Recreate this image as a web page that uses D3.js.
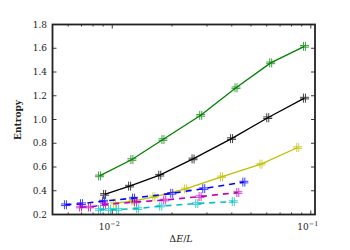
<!DOCTYPE html>
<html><head><meta charset="utf-8">
<script src="https://cdn.jsdelivr.net/npm/d3@7"></script>
<style>body{margin:0;background:#fff}text{font-family:"DejaVu Serif","Liberation Serif",serif}</style>
</head><body><svg id="c" width="350" height="250"></svg>
<script>
const greenX=[0.00863,0.01256,0.018,0.0279,0.042,0.0628,0.0929];
const greenY=[0.525,0.663,0.831,1.035,1.267,1.477,1.616];
const blackX=[0.00915,0.01223,0.01734,0.02553,0.0399,0.0607,0.0929];
const blackY=[0.369,0.439,0.531,0.668,0.839,1.015,1.180];
const yellowX=[0.01027,0.0127,0.0162,0.0234,0.0355,0.0561,0.0859];
const yellowY=[0.296,0.313,0.349,0.416,0.517,0.624,0.764];
const blueX=[0.00581,0.0070,0.00904,0.0128,0.01993,0.0289,0.046];
const blueY=[0.282,0.291,0.313,0.338,0.378,0.418,0.473];
const magentaX=[0.00692,0.00768,0.00914,0.0131,0.01837,0.0277,0.0429];
const magentaY=[0.263,0.263,0.284,0.305,0.322,0.351,0.385];
const cyanX=[0.00863,0.00969,0.01064,0.01342,0.01754,0.02665,0.0407];
const cyanY=[0.242,0.242,0.242,0.250,0.271,0.292,0.309];
const yTicks=[0.2,0.4,0.6,0.8,1.0,1.2,1.4,1.6,1.8];
const xMajor=[0.01,0.1];
const xMinor=[0.006,0.007,0.008,0.009,0.02,0.03,0.04,0.05,0.06,0.07,0.08,0.09];
const xLabels=["−2","−1"];

const series=[
 {x:greenX,y:greenY,c:"#008000",dash:null},
 {x:blackX,y:blackY,c:"#000000",dash:null},
 {x:yellowX,y:yellowY,c:"#bfbf00",dash:null},
 {x:blueX,y:blueY,c:"#0000ff",dash:"6,5"},
 {x:magentaX,y:magentaY,c:"#bf00bf",dash:"6,5"},
 {x:cyanX,y:cyanY,c:"#00bfbf",dash:"6,5"}
];
const L=52.5,R=315,T=24.5,B=214.5;
const x=d3.scaleLog().domain([0.005,0.105]).range([L,R]);
const y=d3.scaleLinear().domain([0.2,1.8]).range([B,T]);
const svg=d3.select("#c");
const g=svg.append("g");
const line=d3.line().x(d=>x(d[0])).y(d=>y(d[1]));
series.forEach(s=>{
  const pts=s.x.map((v,i)=>[v,s.y[i]]);
  g.append("path").attr("d",line(pts)).attr("fill","none").attr("stroke",s.c)
   .attr("stroke-width",s.dash?1.6:1.3).attr("stroke-dasharray",s.dash);
  const m=g.append("g").attr("stroke",s.c).attr("stroke-width",1).attr("opacity",0.75);
  pts.forEach(p=>{
    const cx=x(p[0]),cy=y(p[1]),h=4.5;
    [-1,1].forEach(o=>{
      m.append("line").attr("x1",cx+o).attr("x2",cx+o).attr("y1",cy-h).attr("y2",cy+h);
      m.append("line").attr("x1",cx-h).attr("x2",cx+h).attr("y1",cy+o*0.8).attr("y2",cy+o*0.8);
    });
  });
});
const ax=svg.append("g").attr("stroke","#222").attr("stroke-width",0.9);
yTicks.forEach(t=>{
  ax.append("line").attr("x1",L).attr("x2",L+4).attr("y1",y(t)).attr("y2",y(t));
  ax.append("line").attr("x1",R-4).attr("x2",R).attr("y1",y(t)).attr("y2",y(t));
});
xMajor.forEach(t=>{
  ax.append("line").attr("x1",x(t)).attr("x2",x(t)).attr("y1",B).attr("y2",B-4);
  ax.append("line").attr("x1",x(t)).attr("x2",x(t)).attr("y1",T).attr("y2",T+4);
});
xMinor.forEach(t=>{
  ax.append("line").attr("x1",x(t)).attr("x2",x(t)).attr("y1",B).attr("y2",B-2);
  ax.append("line").attr("x1",x(t)).attr("x2",x(t)).attr("y1",T).attr("y2",T+2);
});
svg.append("rect").attr("x",L).attr("y",T).attr("width",R-L).attr("height",B-T)
  .attr("fill","none").attr("stroke","#222").attr("stroke-width",1.8);
yTicks.forEach(t=>{
  svg.append("text").attr("x",47).attr("y",y(t)+3.2).attr("text-anchor","end")
   .attr("font-size",9).attr("fill","#222").text(d3.format(".1f")(t));
});
xMajor.forEach((t,i)=>{
  const tx=svg.append("text").attr("x",x(t)-3).attr("y",229.5).attr("text-anchor","middle")
   .attr("font-size",9).attr("fill","#222");
  tx.append("tspan").text("10");
  tx.append("tspan").attr("dy",-4).attr("font-size",6.5).text(xLabels[i]);
});
const xl=svg.append("text").attr("x",181).attr("y",242).attr("text-anchor","middle")
  .attr("font-size",9.5).attr("fill","#222");
xl.append("tspan").text("Δ");
xl.append("tspan").attr("font-style","italic").text("E");
xl.append("tspan").text("/");
xl.append("tspan").attr("font-style","italic").text("L");
svg.append("text").attr("transform","translate(21,120) rotate(-90)").attr("text-anchor","middle")
  .attr("font-size",9).attr("font-weight","bold").attr("fill","#222").text("Entropy");
</script></body></html>
